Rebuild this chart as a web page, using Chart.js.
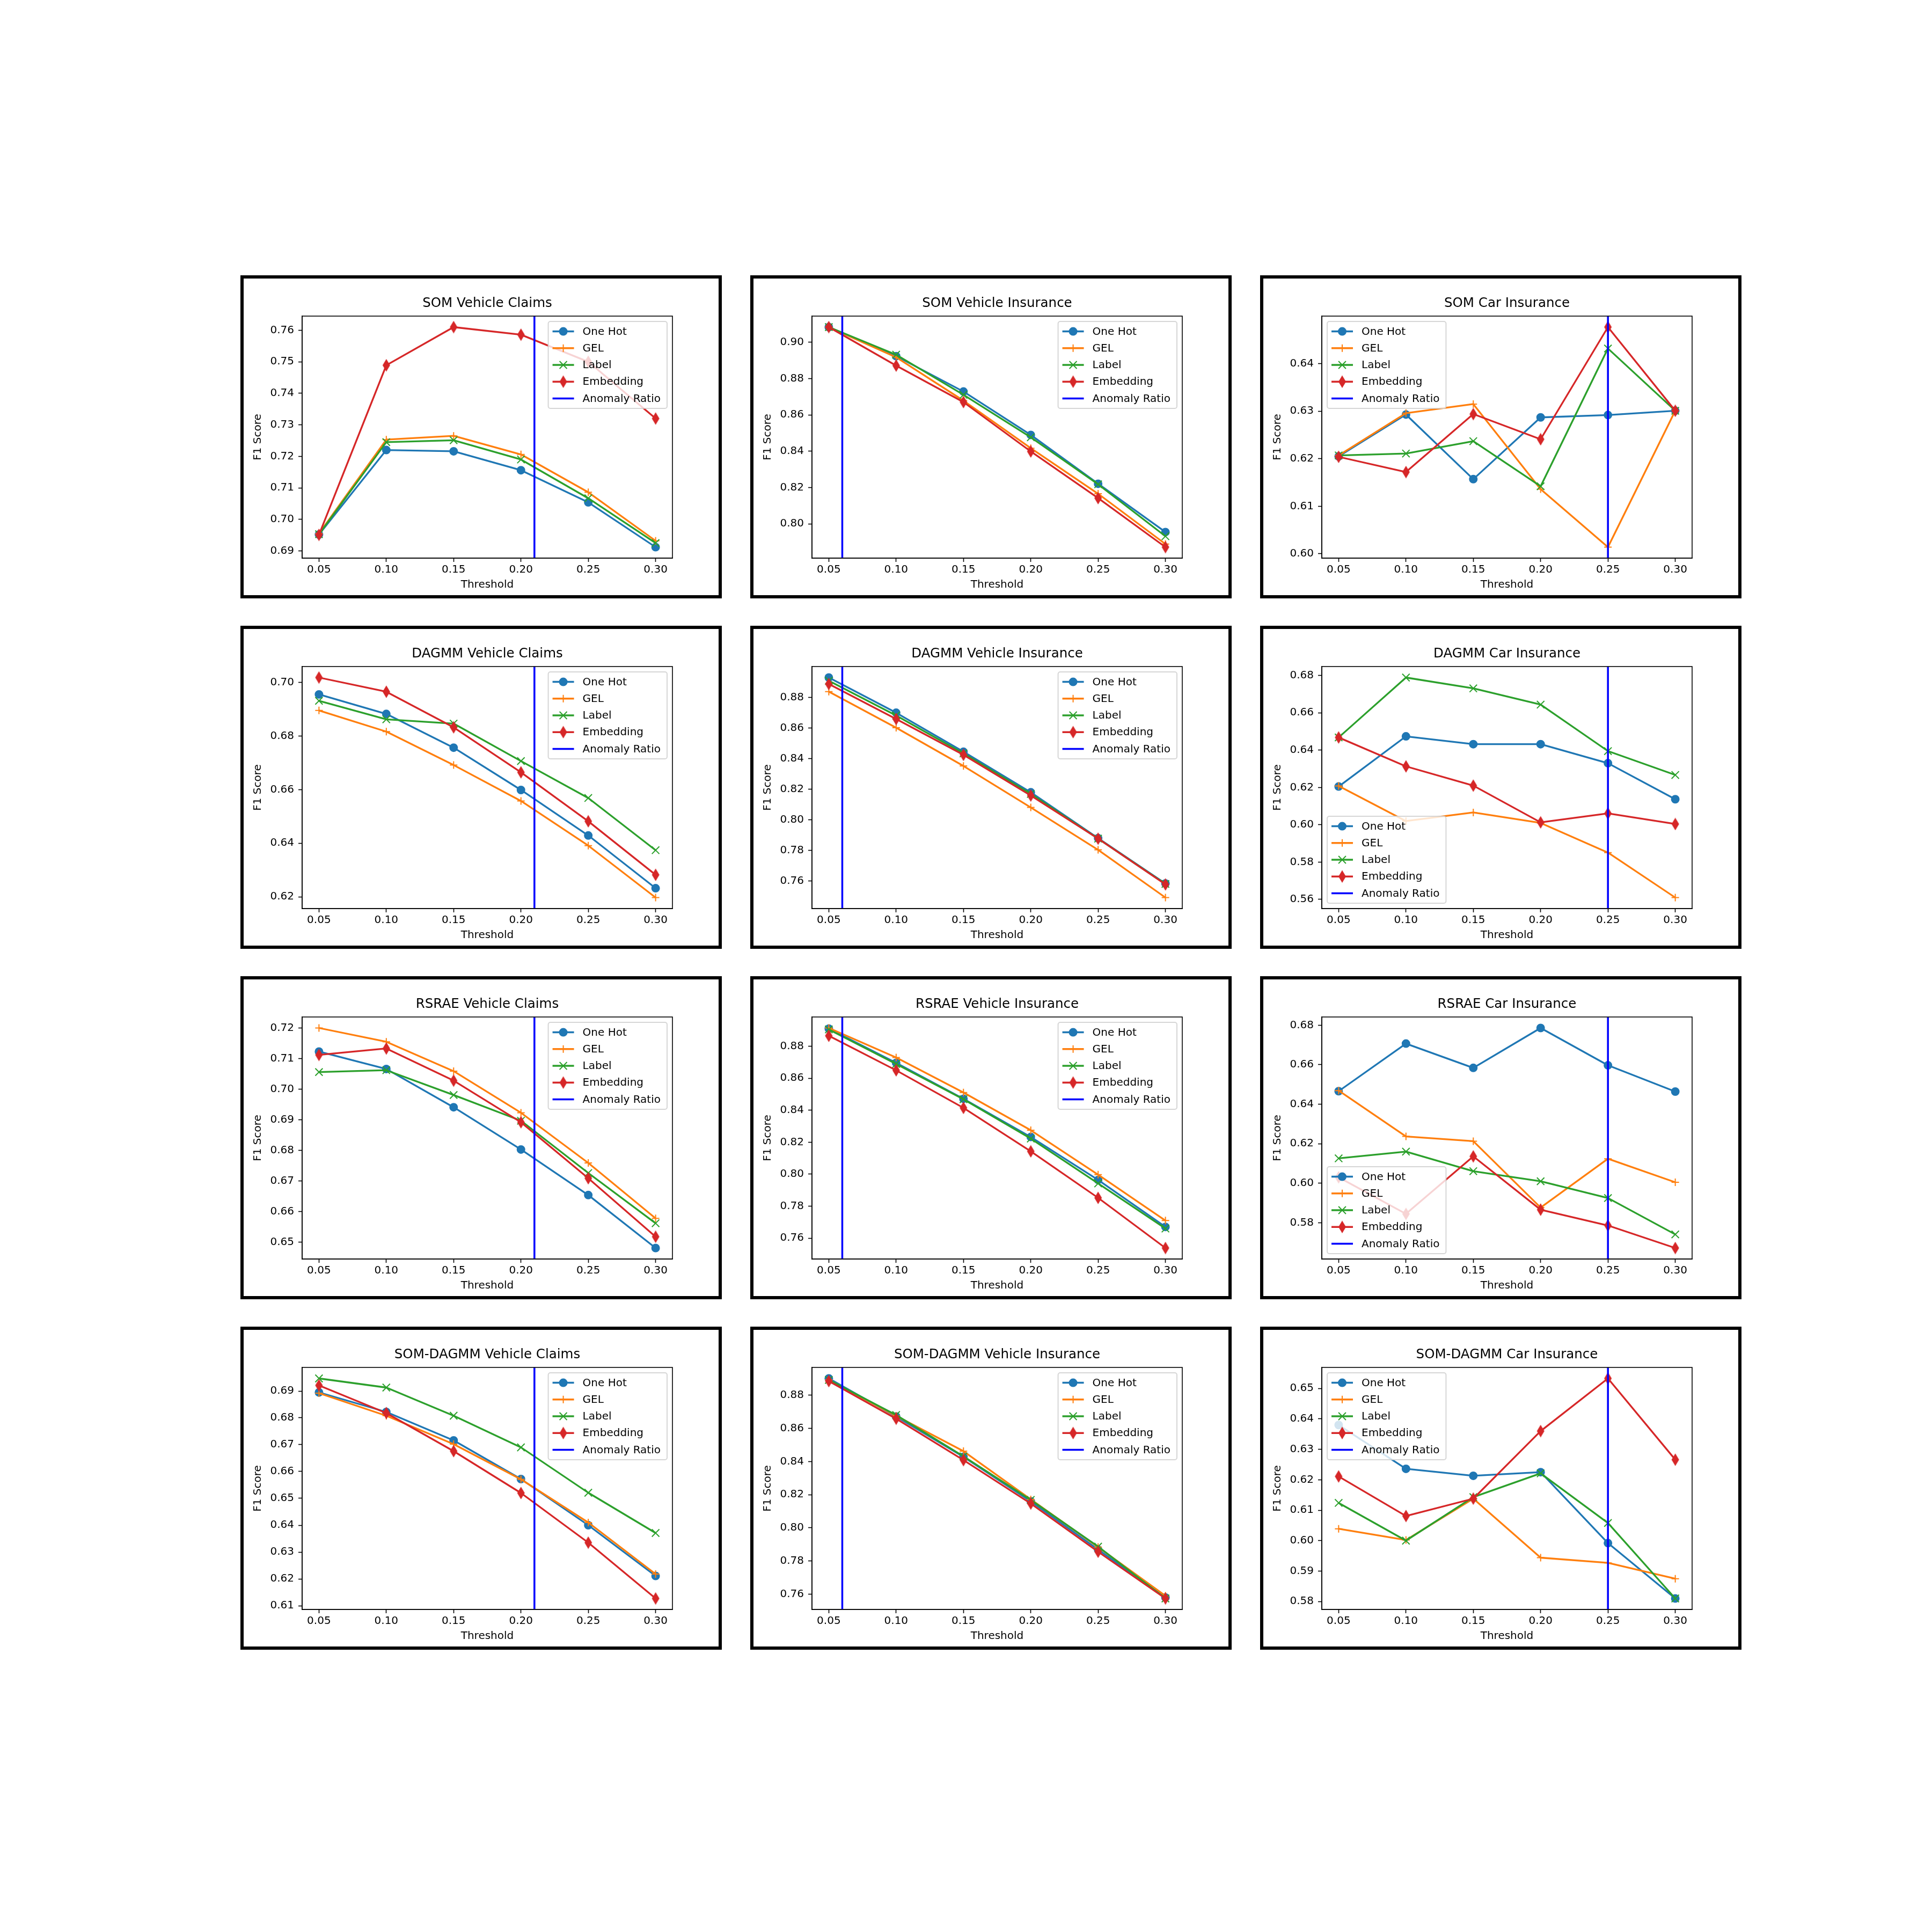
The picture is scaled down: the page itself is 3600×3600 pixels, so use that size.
<!DOCTYPE html>
<html><head><meta charset="utf-8">
<script src="https://cdn.jsdelivr.net/npm/chart.js@4.4.1/dist/chart.umd.min.js"></script>
<style>
html,body{margin:0;padding:0;background:#fff;}
body{width:3600px;height:3600px;position:relative;overflow:hidden;}
.panel{position:absolute;border:6px solid #000;background:#fff;}
.panel canvas{display:block;}
</style></head><body>
<script>
// ---------------- DATA ----------------
const thresholds = [0.05, 0.10, 0.15, 0.20, 0.25, 0.30];
const xTickValues = [0.05, 0.10, 0.15, 0.20, 0.25, 0.30];
const seriesNames = ['One Hot', 'GEL', 'Label', 'Embedding'];
const anomalyLabel = 'Anomaly Ratio';

// rows: One Hot, GEL, Label, Embedding
const somVehicleClaims = [
  [0.6952, 0.7220, 0.7216, 0.7156, 0.7054, 0.6912],
  [0.6955, 0.7253, 0.7265, 0.7206, 0.7086, 0.6932],
  [0.6953, 0.7245, 0.7251, 0.7190, 0.7067, 0.6925],
  [0.6951, 0.7489, 0.7610, 0.7586, 0.7500, 0.7320]
];
const somVehicleInsurance = [
  [0.9084, 0.8924, 0.8729, 0.8490, 0.8221, 0.7955],
  [0.9084, 0.8918, 0.8679, 0.8417, 0.8166, 0.7889],
  [0.9084, 0.8932, 0.8711, 0.8477, 0.8218, 0.7932],
  [0.9084, 0.8872, 0.8671, 0.8399, 0.8142, 0.7872]
];
const somCarInsurance = [
  [0.6205, 0.6293, 0.6157, 0.6287, 0.6292, 0.6301],
  [0.6207, 0.6296, 0.6315, 0.6136, 0.6014, 0.6301],
  [0.6207, 0.6211, 0.6237, 0.6142, 0.6432, 0.6301],
  [0.6204, 0.6172, 0.6294, 0.6241, 0.6477, 0.6301]
];
const dagmmVehicleClaims = [
  [0.6956, 0.6883, 0.6757, 0.6599, 0.6429, 0.6232],
  [0.6896, 0.6817, 0.6692, 0.6558, 0.6391, 0.6197],
  [0.6932, 0.6863, 0.6847, 0.6707, 0.6569, 0.6374],
  [0.7019, 0.6966, 0.6833, 0.6665, 0.6482, 0.6282]
];
const dagmmVehicleInsurance = [
  [0.8931, 0.8701, 0.8446, 0.8181, 0.7881, 0.7585],
  [0.8839, 0.8603, 0.8353, 0.8082, 0.7805, 0.7493],
  [0.8910, 0.8683, 0.8435, 0.8170, 0.7878, 0.7582],
  [0.8889, 0.8660, 0.8426, 0.8160, 0.7878, 0.7579]
];
const dagmmCarInsurance = [
  [0.6205, 0.6474, 0.6432, 0.6432, 0.6330, 0.6137],
  [0.6208, 0.6020, 0.6066, 0.6010, 0.5851, 0.5610],
  [0.6468, 0.6789, 0.6731, 0.6644, 0.6395, 0.6267],
  [0.6468, 0.6313, 0.6210, 0.6013, 0.6061, 0.6004]
];
const rsraeVehicleClaims = [
  [0.7123, 0.7066, 0.6941, 0.6803, 0.6654, 0.6481],
  [0.7200, 0.7155, 0.7059, 0.6923, 0.6759, 0.6578],
  [0.7056, 0.7062, 0.6981, 0.6897, 0.6726, 0.6562],
  [0.7112, 0.7133, 0.7028, 0.6892, 0.6709, 0.6518]
];
const rsraeVehicleInsurance = [
  [0.8911, 0.8697, 0.8472, 0.8233, 0.7964, 0.7670],
  [0.8915, 0.8730, 0.8511, 0.8275, 0.7997, 0.7710],
  [0.8906, 0.8690, 0.8469, 0.8223, 0.7942, 0.7660],
  [0.8866, 0.8650, 0.8415, 0.8143, 0.7852, 0.7538]
];
const rsraeCarInsurance = [
  [0.6466, 0.6707, 0.6584, 0.6786, 0.6597, 0.6464],
  [0.6469, 0.6237, 0.6213, 0.5877, 0.6124, 0.6005],
  [0.6126, 0.6160, 0.6061, 0.6010, 0.5925, 0.5741],
  [0.6030, 0.5845, 0.6136, 0.5866, 0.5786, 0.5672]
];
const somDagmmVehicleClaims = [
  [0.6895, 0.6822, 0.6716, 0.6572, 0.6400, 0.6211],
  [0.6892, 0.6808, 0.6702, 0.6571, 0.6410, 0.6218],
  [0.6947, 0.6913, 0.6808, 0.6690, 0.6521, 0.6371],
  [0.6921, 0.6818, 0.6676, 0.6520, 0.6335, 0.6127]
];
const somDagmmVehicleInsurance = [
  [0.8902, 0.8672, 0.8429, 0.8160, 0.7869, 0.7580],
  [0.8893, 0.8676, 0.8463, 0.8172, 0.7884, 0.7590],
  [0.8893, 0.8681, 0.8432, 0.8169, 0.7887, 0.7574],
  [0.8886, 0.8659, 0.8409, 0.8147, 0.7856, 0.7574]
];
const somDagmmCarInsurance = [
  [0.6380, 0.6236, 0.6213, 0.6225, 0.5992, 0.5810],
  [0.6039, 0.6002, 0.6138, 0.5944, 0.5927, 0.5875],
  [0.6124, 0.6000, 0.6143, 0.6221, 0.6058, 0.5810],
  [0.6211, 0.6081, 0.6138, 0.6360, 0.6533, 0.6266]
];

const panelTitles = [
  'SOM Vehicle Claims', 'SOM Vehicle Insurance', 'SOM Car Insurance',
  'DAGMM Vehicle Claims', 'DAGMM Vehicle Insurance', 'DAGMM Car Insurance',
  'RSRAE Vehicle Claims', 'RSRAE Vehicle Insurance', 'RSRAE Car Insurance',
  'SOM-DAGMM Vehicle Claims', 'SOM-DAGMM Vehicle Insurance', 'SOM-DAGMM Car Insurance'
];
const panelData = [
  somVehicleClaims, somVehicleInsurance, somCarInsurance,
  dagmmVehicleClaims, dagmmVehicleInsurance, dagmmCarInsurance,
  rsraeVehicleClaims, rsraeVehicleInsurance, rsraeCarInsurance,
  somDagmmVehicleClaims, somDagmmVehicleInsurance, somDagmmCarInsurance
];
const anomalyRatios = [0.21, 0.06, 0.25, 0.21, 0.06, 0.25, 0.21, 0.06, 0.25, 0.21, 0.06, 0.25];
const yTicks = [
  [0.69, 0.70, 0.71, 0.72, 0.73, 0.74, 0.75, 0.76],
  [0.80, 0.82, 0.84, 0.86, 0.88, 0.90],
  [0.60, 0.61, 0.62, 0.63, 0.64],
  [0.62, 0.64, 0.66, 0.68, 0.70],
  [0.76, 0.78, 0.80, 0.82, 0.84, 0.86, 0.88],
  [0.56, 0.58, 0.60, 0.62, 0.64, 0.66, 0.68],
  [0.65, 0.66, 0.67, 0.68, 0.69, 0.70, 0.71, 0.72],
  [0.76, 0.78, 0.80, 0.82, 0.84, 0.86, 0.88],
  [0.58, 0.60, 0.62, 0.64, 0.66, 0.68],
  [0.61, 0.62, 0.63, 0.64, 0.65, 0.66, 0.67, 0.68, 0.69],
  [0.76, 0.78, 0.80, 0.82, 0.84, 0.86, 0.88],
  [0.58, 0.59, 0.60, 0.61, 0.62, 0.63, 0.64, 0.65]
];
const legendLocs = [
  'upper right', 'upper right', 'upper left',
  'upper right', 'upper right', 'lower left',
  'upper right', 'upper right', 'lower left',
  'upper right', 'upper right', 'upper left'
];

// ---------------- STYLE / LAYOUT ----------------
const FONT = "'DejaVu Sans', 'Liberation Sans', sans-serif";
const COLORS = ['#1f77b4', '#ff7f0e', '#2ca02c', '#d62728'];
const ANOMALY_COLOR = '#0000ff';
const BOX_LEFT0 = 448, BOX_TOP0 = 513, COL_STEP = 950, ROW_STEP = 653;
const CANVAS_W = 885, CANVAS_H = 590;
const PLOT_LEFT = 109, PLOT_W = 690, X_AXIS_H = 69;

function makeThinDiamond(color) {
  const h = 19.5, w = 11.7, lw = 2;
  const c = document.createElement('canvas');
  c.width = Math.ceil(w + lw + 2); c.height = Math.ceil(h + lw + 2);
  const g = c.getContext('2d');
  const cx = c.width / 2, cy = c.height / 2;
  g.beginPath();
  g.moveTo(cx, cy - h / 2); g.lineTo(cx + w / 2, cy); g.lineTo(cx, cy + h / 2); g.lineTo(cx - w / 2, cy);
  g.closePath();
  g.fillStyle = color; g.fill();
  g.lineWidth = lw; g.strokeStyle = color; g.stroke();
  return c;
}
const thinDiamond = makeThinDiamond(COLORS[3]);
const POINT_STYLES = ['circle', 'cross', 'crossRot', thinDiamond];
const POINT_RADII = [7, 7, 9.8, 9];

function limitsOf(rows) {
  let lo = Infinity, hi = -Infinity;
  rows.forEach(r => r.forEach(v => { lo = Math.min(lo, v); hi = Math.max(hi, v); }));
  const m = (hi - lo) * 0.05;
  return [lo - m, hi + m];
}

const framePlugin = {
  id: 'frame',
  afterDatasetsDraw(chart) {
    const { ctx, chartArea: a } = chart;
    ctx.save();
    ctx.strokeStyle = '#000'; ctx.lineWidth = 1.6;
    ctx.strokeRect(a.left, a.top, a.right - a.left, a.bottom - a.top);
    ctx.restore();
  }
};

function makeLegend(loc) {
  return {
    id: 'mplLegend',
    afterDraw(chart) {
      const ctx = chart.ctx, a = chart.chartArea;
      const items = seriesNames.map((n, k) => ({ label: n, color: COLORS[k], style: POINT_STYLES[k], radius: POINT_RADII[k] }))
        .concat([{ label: anomalyLabel, color: ANOMALY_COLOR, style: null }]);
      ctx.save();
      ctx.font = '20px ' + FONT;
      const pad = 8, hl = 40, hp = 16, rowH = 21.2, sp = 10, ax = 10;
      const tw = Math.max(...items.map(it => ctx.measureText(it.label).width));
      const w = pad * 2 + hl + hp + tw + 4;
      const h = pad * 2 + rowH * items.length + sp * (items.length - 1);
      const x0 = loc.includes('right') ? a.right - ax - w : a.left + ax;
      const y0 = loc.includes('upper') ? a.top + ax : a.bottom - ax - h;
      ctx.beginPath();
      ctx.roundRect(x0, y0, w, h, 4);
      ctx.fillStyle = 'rgba(255,255,255,0.8)'; ctx.fill();
      ctx.lineWidth = 2; ctx.strokeStyle = 'rgba(204,204,204,0.8)'; ctx.stroke();
      items.forEach((it, k) => {
        const cy = y0 + pad + rowH / 2 + k * (rowH + sp);
        const hx = x0 + pad;
        ctx.beginPath(); ctx.moveTo(hx, cy); ctx.lineTo(hx + hl, cy);
        ctx.strokeStyle = it.color; ctx.lineWidth = 3.5; ctx.stroke();
        if (it.style) {
          ctx.fillStyle = it.color; ctx.strokeStyle = it.color; ctx.lineWidth = 2;
          Chart.helpers.drawPoint(ctx, { pointStyle: it.style, radius: it.radius, borderWidth: 2, rotation: 0 }, hx + hl / 2, cy);
        }
        ctx.fillStyle = '#000'; ctx.textBaseline = 'middle'; ctx.textAlign = 'left';
        ctx.fillText(it.label, hx + hl + hp, cy + 1);
      });
      ctx.restore();
    }
  };
}

function buildPanel(i) {
  const col = i % 3, row = Math.floor(i / 3);
  const div = document.createElement('div');
  div.className = 'panel';
  div.style.left = (BOX_LEFT0 + col * COL_STEP) + 'px';
  div.style.top = (BOX_TOP0 + row * ROW_STEP) + 'px';
  div.style.width = CANVAS_W + 'px';
  div.style.height = CANVAS_H + 'px';
  const cv = document.createElement('canvas');
  cv.width = CANVAS_W; cv.height = CANVAS_H;
  div.appendChild(cv);
  document.body.appendChild(div);

  const values = panelData[i];
  const [ymin, ymax] = limitsOf(values);
  const datasets = seriesNames.map((name, k) => ({
    label: name,
    data: thresholds.map((x, j) => ({ x: x, y: values[k][j] })),
    borderColor: COLORS[k], backgroundColor: COLORS[k],
    borderWidth: 3.3, borderJoinStyle: 'round',
    pointStyle: POINT_STYLES[k], pointRadius: POINT_RADII[k], pointBorderWidth: 2,
    pointBackgroundColor: COLORS[k], pointBorderColor: COLORS[k],
    order: -k, tension: 0, fill: false
  }));
  datasets.push({
    label: anomalyLabel,
    data: [{ x: anomalyRatios[i], y: ymin }, { x: anomalyRatios[i], y: ymax }],
    borderColor: ANOMALY_COLOR, backgroundColor: ANOMALY_COLOR,
    borderWidth: 3.5, pointRadius: 0, order: -4, fill: false
  });

  const tickFont = { family: FONT, size: 20 };
  const gridOpts = { drawOnChartArea: false, drawTicks: true, tickLength: 7, tickWidth: 1.6, tickColor: '#000' };
  const borderOpts = { display: true, color: '#000', width: 1.6 };

  new Chart(cv, {
    type: 'line',
    data: { datasets },
    plugins: [framePlugin, makeLegend(legendLocs[i])],
    options: {
      responsive: false, animation: false, devicePixelRatio: 1,
      layout: { padding: { left: 0, top: 0, bottom: 0, right: CANVAS_W - PLOT_LEFT - PLOT_W } },
      plugins: {
        legend: { display: false },
        tooltip: { enabled: false },
        title: {
          display: true, text: panelTitles[i], color: '#000', fullSize: false,
          font: { family: FONT, size: 24.5, weight: 'normal' },
          padding: { top: 32.3, bottom: 8.3 }
        }
      },
      scales: {
        x: {
          type: 'linear', min: 0.0375, max: 0.3125, bounds: 'data',
          afterBuildTicks: s => { s.ticks = xTickValues.map(v => ({ value: v })); },
          afterFit: s => { s.height = X_AXIS_H; },
          ticks: { callback: v => Number(v).toFixed(2), font: tickFont, color: '#000', padding: 3, maxRotation: 0, autoSkip: false },
          grid: gridOpts, border: borderOpts,
          title: { display: true, text: 'Threshold', font: tickFont, color: '#000', padding: { top: 0, bottom: 7 } }
        },
        y: {
          type: 'linear', min: ymin, max: ymax, bounds: 'data',
          afterBuildTicks: s => { s.ticks = yTicks[i].map(v => ({ value: v })); },
          afterFit: s => { s.width = PLOT_LEFT; },
          ticks: { callback: v => Number(v).toFixed(2), font: tickFont, color: '#000', padding: 8, autoSkip: false },
          grid: gridOpts, border: borderOpts,
          title: { display: true, text: 'F1 Score', font: tickFont, color: '#000', padding: { top: 15, bottom: 0 } }
        }
      }
    }
  });
}

for (let i = 0; i < 12; i++) buildPanel(i);
</script>
</body></html>
